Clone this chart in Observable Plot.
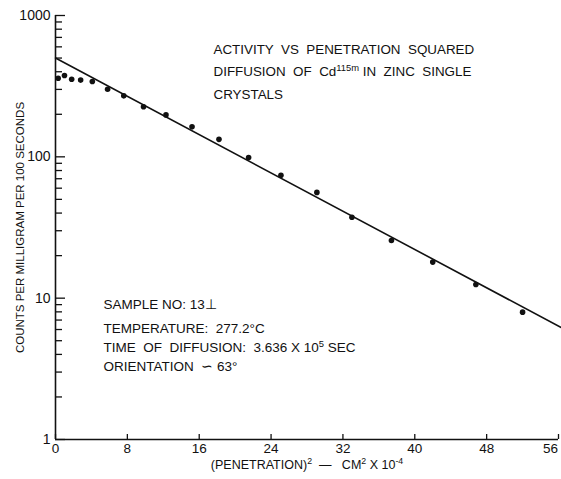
<!DOCTYPE html>
<html><head><meta charset="utf-8">
<script src="https://cdn.jsdelivr.net/npm/d3@7"></script>
<script src="https://cdn.jsdelivr.net/npm/@observablehq/plot@0.6"></script>
<style>
body{margin:0;background:#fff;}
</style></head><body><div id="chart"></div>
<script>
// Data
const penetrationSq = [0.3, 1.0, 1.8, 2.8, 4.1, 5.8, 7.6, 9.8, 12.3, 15.2, 18.2, 21.5, 25.1, 29.1, 33.0, 37.4, 42.0, 46.8, 52.0];
const counts = [360, 376, 354, 349, 341, 301, 270, 226, 198, 163, 133, 99, 74, 56, 37.4, 25.6, 18.0, 12.5, 7.96];
const fitX = [0, 56.3];
const fitY = [500, 6.2];

const xTicks = [0, 8, 16, 24, 32, 40, 48];
const xLastTick = [56];
const yMajor = [1, 10, 100, 1000];
const yMinor = [2,3,4,5,6,7,8,9,20,30,40,50,60,70,80,90,200,300,400,500,600,700,800,900];

// ^{...} marks superscript text
const xLabel = "(PENETRATION)^{2}  \u2014   CM^{2} X 10^{-4}";
const yLabel = "COUNTS PER MILLIGRAM PER 100 SECONDS";
const titleLines = ["ACTIVITY  VS  PENETRATION  SQUARED", "DIFFUSION  OF  Cd^{115m} IN  ZINC  SINGLE", "CRYSTALS"];
const infoA = ["SAMPLE NO: 13\u22A5", "TEMPERATURE:  277.2\u00B0C"];
const infoB = ["TIME  OF  DIFFUSION:  3.636 X 10^{5} SEC", "ORIENTATION  \u223D 63\u00B0"];

const points = penetrationSq.map((x, i) => ({x, y: counts[i]}));
const fit = fitX.map((x, i) => ({x, y: fitY[i]}));

const font = "'Liberation Sans', Arial, sans-serif";
const pxX = 56 / 503;          // data units per pixel on x
const pxY = 1 / 141.33;        // decades per pixel on y

const chart = Plot.plot({
  width: 561, height: 479,
  marginLeft: 55, marginRight: 3, marginTop: 15, marginBottom: 40,
  style: {fontFamily: font, fontSize: "14px", color: "#111", background: "#fff", overflow: "visible"},
  x: {domain: [0, 56]},
  y: {type: "log", domain: [1, 1000]},
  marks: [
    Plot.axisX({ticks: xTicks, tickSize: 0, tickPadding: 4, tickFormat: d => String(d), label: null, fontSize: 13.5}),
    Plot.axisX({ticks: xLastTick, tickSize: 0, tickPadding: 4, dx: -8, tickFormat: d => String(d), label: null, fontSize: 13.5}),
    Plot.axisY({ticks: yMajor, tickSize: 0, tickPadding: 5, tickFormat: d => String(d), label: null, fontSize: 14}),
    // inward tick marks
    Plot.ruleY(yMinor, {y: d => d, x1: 0, x2: 7 * pxX, stroke: "#111", strokeWidth: 1.3}),
    Plot.ruleY(yMajor, {y: d => d, x1: 0, x2: 10 * pxX, stroke: "#111", strokeWidth: 1.3}),
    Plot.ruleX(xTicks.concat(xLastTick), {x: d => d, y1: 1, y2: Math.pow(10, 5 * pxY), stroke: "#111", strokeWidth: 1.3}),
    Plot.ruleX([0], {stroke: "#111", strokeWidth: 1.6}),
    Plot.ruleY([1], {stroke: "#111", strokeWidth: 1.6}),
    Plot.line(fit, {x: "x", y: "y", stroke: "#111", strokeWidth: 1.6, clip: false}),
    Plot.dot(points, {x: "x", y: "y", r: 2.8, fill: "#111", stroke: null}),
    Plot.text([xLabel], {frameAnchor: "bottom", dy: 29, fontSize: 12.5, fill: "#111"}),
    Plot.text([yLabel], {frameAnchor: "left", textAnchor: "middle", dx: -35, rotate: -90, fontSize: 11.5, fill: "#111"}),
    Plot.text([titleLines.join("\n")], {frameAnchor: "top-left", textAnchor: "start", lineAnchor: "top", dx: 158, dy: 22, lineHeight: 1.7, fontSize: 13.4, fill: "#111"}),
    Plot.text([infoA.join("\n")], {frameAnchor: "top-left", textAnchor: "start", lineAnchor: "top", dx: 48, dy: 276, lineHeight: 1.8, fontSize: 13.5, fill: "#111"}),
    Plot.text([infoB.join("\n")], {frameAnchor: "top-left", textAnchor: "start", lineAnchor: "top", dx: 48, dy: 324, lineHeight: 1.35, fontSize: 13.5, fill: "#111"})
  ]
});

// turn ^{...} into superscript tspans
function superscriptify(el) {
  const s = el.textContent;
  if (!s.includes("^{")) return;
  const parts = s.split(/(\^\{[^}]*\})/);
  el.textContent = "";
  parts.forEach(p => {
    if (!p) return;
    const t = document.createElementNS("http://www.w3.org/2000/svg", "tspan");
    if (p.startsWith("^{")) {
      t.textContent = p.slice(2, -1);
      t.setAttribute("baseline-shift", "super");
      t.setAttribute("font-size", "70%");
    } else {
      t.textContent = p;
    }
    el.appendChild(t);
  });
}
chart.querySelectorAll("text").forEach(t => {
  t.setAttribute("xml:space", "preserve");
  if (t.querySelector("tspan")) t.querySelectorAll("tspan").forEach(superscriptify);
  else superscriptify(t);
});
chart.style.whiteSpace = "pre";
document.getElementById("chart").appendChild(chart);
</script>
</body></html>
